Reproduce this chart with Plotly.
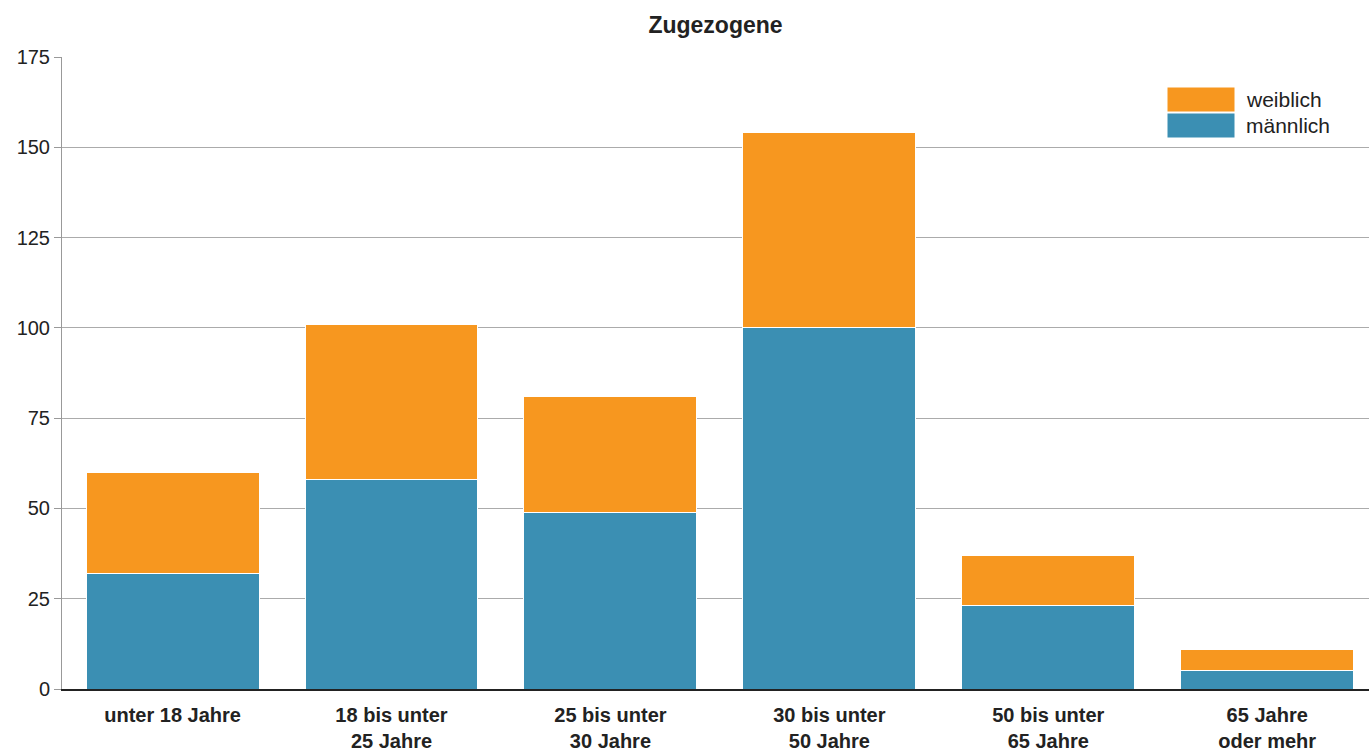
import plotly.graph_objects as go

categories = ["unter 18 Jahre", "18 bis unter<br>25 Jahre", "25 bis unter<br>30 Jahre",
              "30 bis unter<br>50 Jahre", "50 bis unter<br>65 Jahre", "65 Jahre<br>oder mehr"]
maennlich = [32, 58, 49, 100, 23, 5]
weiblich = [28, 43, 32, 54, 14, 6]
y_ticks = [0, 25, 50, 75, 100, 125, 150, 175]

col_w = "#F7971F"
col_m = "#3B8FB3"

fig = go.Figure()
fig.add_bar(x=categories, y=maennlich, name="männlich", marker=dict(color=col_m, line=dict(color="white", width=1)))
fig.add_bar(x=categories, y=weiblich, name="weiblich", marker=dict(color=col_w, line=dict(color="white", width=1)))

fig.update_layout(
    width=1369, height=754, autosize=False,
    barmode="stack", bargap=0.21,
    plot_bgcolor="white", paper_bgcolor="white",
    margin=dict(l=62, r=0, t=57, b=65),
    font=dict(family="Liberation Sans, Arial, sans-serif", color="#222"),
    title=dict(text="<b>Zugezogene</b>", x=0.5, xref="paper", xanchor="center", y=0.967, yanchor="middle",
               font=dict(size=23, color="#222")),
    showlegend=False,
)
fig.update_yaxes(range=[0, 175], tickvals=y_ticks, showgrid=True, gridcolor="#ababab", gridwidth=1,
                 ticks="outside", ticklen=7, tickcolor="#999", showline=True, linecolor="#999",
                 tickfont=dict(size=20, color="#222"), zeroline=False, automargin=False)
fig.update_xaxes(range=[-0.505, 5.465], showline=True, linecolor="#222", linewidth=2, ticks="",
                 automargin=False, ticklabelstandoff=7,
                 tickfont=dict(size=20, color="#222"), tickprefix="<b>", ticksuffix="</b>")

# legend drawn manually with larger swatches
legend_items = [("weiblich", col_w), ("männlich", col_m)]
for i, (name, c) in enumerate(legend_items):
    y0 = 1 - (87 - 57) / 632 - i * 26 / 632
    fig.add_shape(type="rect", xref="paper", yref="paper",
                  x0=(1167 - 62) / 1307, x1=(1235 - 62) / 1307,
                  y0=y0 - 25 / 632, y1=y0, fillcolor=c, line=dict(color="white", width=1))
    fig.add_annotation(xref="paper", yref="paper", x=(1244 - 62) / 1307, y=y0 - 12.5 / 632,
                       text=name, showarrow=False, xanchor="left", yanchor="middle",
                       font=dict(size=21, color="#222"))

fig.write_html("out.html", config={"responsive": False, "displayModeBar": False},
               post_script="document.body.style.margin='0';document.body.style.padding='0';")
